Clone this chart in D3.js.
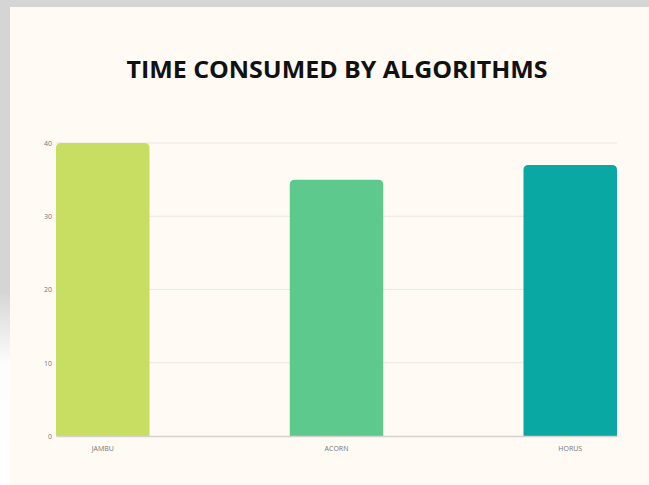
<!DOCTYPE html>
<html>
<head>
<meta charset="utf-8">
<script src="https://cdn.jsdelivr.net/npm/d3@7"></script>
<style>
  body { margin: 0; background: #d5d5d5; }
  svg { display: block; }
</style>
</head>
<body>
<div id="chart"></div>
<script>
// data
var categories = ["JAMBU", "ACORN", "HORUS"];
var values = [40, 35, 37];
var bar_colors = ["#c8de62", "#5ec98c", "#0aa8a2"];
var y_ticks = [0, 10, 20, 30, 40];
var title = "TIME CONSUMED BY ALGORITHMS";

var W = 649, H = 485;

var svg = d3.select("#chart")
    .append("svg")
    .attr("width", W)
    .attr("height", H);

// left strip fades to white lower down
var defs = svg.append("defs");
var grad = defs.append("linearGradient")
    .attr("id", "strip")
    .attr("x1", 0).attr("y1", 0).attr("x2", 0).attr("y2", 1);
grad.append("stop").attr("offset", "0.6").attr("stop-color", "#d5d5d5");
grad.append("stop").attr("offset", "0.75").attr("stop-color", "#fdfdfd");
grad.append("stop").attr("offset", "1").attr("stop-color", "#ffffff");

svg.append("rect")
    .attr("x", 0).attr("y", 0)
    .attr("width", 10).attr("height", H)
    .attr("fill", "url(#strip)");

// cream card
svg.append("rect")
    .attr("x", 10).attr("y", 7)
    .attr("width", W - 10).attr("height", H - 7)
    .attr("fill", "#fffaf4");

svg.append("text")
    .attr("x", 337)
    .attr("y", 78)
    .attr("text-anchor", "middle")
    .attr("font-family", "Open Sans, sans-serif")
    .attr("font-weight", 700)
    .attr("font-size", 24)
    .attr("textLength", 421)
    .attr("lengthAdjust", "spacingAndGlyphs")
    .attr("fill", "#111")
    .text(title);

var x = d3.scaleBand()
    .domain(categories)
    .range([56, 617])
    .paddingInner(0.6)
    .paddingOuter(0);

var y = d3.scaleLinear()
    .domain([0, 40])
    .range([436, 143]);

// grid lines
svg.append("g")
    .selectAll("line")
    .data(y_ticks.filter(d => d > 0))
    .join("line")
    .attr("x1", 56)
    .attr("x2", 617)
    .attr("y1", d => y(d))
    .attr("y2", d => y(d))
    .attr("stroke", "#ebe6e1")
    .attr("stroke-width", 1);

// y axis labels
var yAxis = svg.append("g")
    .attr("transform", "translate(52,0)")
    .call(d3.axisLeft(y).tickValues(y_ticks).tickSize(0).tickPadding(0));
yAxis.select(".domain").remove();
yAxis.selectAll("text")
    .attr("font-family", "Open Sans, sans-serif")
    .attr("font-size", 7)
    .attr("fill", "#777");

// bars with rounded tops
var r = 5;
svg.append("g")
    .selectAll("path")
    .data(categories)
    .join("path")
    .attr("d", function (d, i) {
        var x0 = x(d), w = x.bandwidth();
        var top = y(values[i]), bottom = y(0);
        return "M" + x0 + "," + bottom +
            "V" + (top + r) +
            "Q" + x0 + "," + top + " " + (x0 + r) + "," + top +
            "H" + (x0 + w - r) +
            "Q" + (x0 + w) + "," + top + " " + (x0 + w) + "," + (top + r) +
            "V" + bottom + "Z";
    })
    .attr("fill", (d, i) => bar_colors[i]);

// baseline and category labels
var xAxis = svg.append("g")
    .attr("transform", "translate(0," + y(0) + ")")
    .call(d3.axisBottom(x).tickSize(0).tickPadding(10));
xAxis.select(".domain")
    .attr("stroke", "#d6d1cc")
    .attr("stroke-width", 1.5);
xAxis.selectAll("text")
    .attr("font-family", "Open Sans, sans-serif")
    .attr("font-size", 7)
    .attr("fill", "#777");
</script>
</body>
</html>
